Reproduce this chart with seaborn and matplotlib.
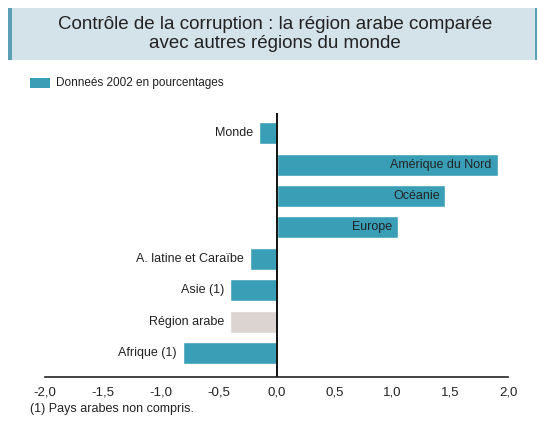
import pandas as pd
import matplotlib
matplotlib.use("Agg")
import matplotlib.pyplot as plt
import seaborn as sns
from matplotlib.patches import Rectangle

# data
regions = ["Monde", "Amérique du Nord", "Océanie", "Europe",
           "A. latine et Caraïbe", "Asie (1)", "Région arabe", "Afrique (1)"]
values = [-0.15, 1.91, 1.46, 1.05, -0.23, -0.40, -0.40, -0.81]
groups = ["autre", "autre", "autre", "autre", "autre", "autre", "arabe", "autre"]
inside_label = [False, True, True, True, False, False, False, False]
xticks = [-2.0, -1.5, -1.0, -0.5, 0.0, 0.5, 1.0, 1.5, 2.0]

teal = "#3a9fb6"
grey = "#dcd4d0"

sns.set_style("white")
plt.rcParams["font.family"] = ["Liberation Sans", "DejaVu Sans"]

df = pd.DataFrame({"region": regions, "valeur": values, "groupe": groups})

fig = plt.figure(figsize=(5.39, 4.21), dpi=100)
ax = fig.add_axes([45 / 539, 44 / 421, 463 / 539, 264 / 421])

sns.barplot(data=df, x="valeur", y="region", hue="groupe", orient="h",
            palette={"autre": teal, "arabe": grey}, width=0.7, saturation=1,
            dodge=False, legend=False, ax=ax)

ax.set_xlim(-2.0, 2.0)
ax.set_ylim(7.76, -0.64)
ax.set_xticks(xticks)
ax.set_xticklabels([f"{t:.1f}".replace(".", ",") for t in xticks], fontsize=9.5, color="#222222")
ax.tick_params(axis="x", direction="inout", length=9, width=1.2, color="#222222", pad=2)
ax.set_yticks([])
ax.set_xlabel("")
ax.set_ylabel("")
for s in ["top", "right", "left"]:
    ax.spines[s].set_visible(False)
ax.spines["bottom"].set_linewidth(1.2)
ax.spines["bottom"].set_color("#222222")
ax.axvline(0, color="#111111", lw=1.4)

# category labels
for i, (name, v, inside) in enumerate(zip(regions, values, inside_label)):
    if inside:
        ax.text(v - 0.05, i, name, ha="right", va="center", fontsize=9, color="#222222")
    else:
        ax.text(min(v, 0) - 0.05, i, name, ha="right", va="center", fontsize=9, color="#222222")

# title box
fig.patches.append(Rectangle((8 / 539, 361 / 421), 529 / 539, 52 / 421,
                             transform=fig.transFigure, facecolor="#d4e2e9",
                             edgecolor="none", zorder=0))
fig.patches.append(Rectangle((8 / 539, 361 / 421), 4 / 539, 52 / 421,
                             transform=fig.transFigure, facecolor="#5a9fb3",
                             edgecolor="none", zorder=1))
fig.patches.append(Rectangle((535 / 539, 361 / 421), 2 / 539, 52 / 421,
                             transform=fig.transFigure, facecolor="#5a9fb3",
                             edgecolor="none", zorder=1))
fig.text(275 / 539, 1 - 34 / 421,
         "Contrôle de la corruption : la région arabe comparée\navec autres régions du monde",
         ha="center", va="center", fontsize=13.5, color="#222222", linespacing=1.2)

# legend
fig.patches.append(Rectangle((30 / 539, 1 - 88 / 421), 20 / 539, 10 / 421,
                             transform=fig.transFigure, facecolor=teal, edgecolor="none"))
fig.text(56 / 539, 1 - 83 / 421, "Donneés 2002 en pourcentages",
         ha="left", va="center", fontsize=8.5, color="#222222")

# footnote
fig.text(30 / 539, 1 - 409 / 421, "(1) Pays arabes non compris.",
         ha="left", va="center", fontsize=9, color="#222222")

fig.savefig("out.png", dpi=100)
